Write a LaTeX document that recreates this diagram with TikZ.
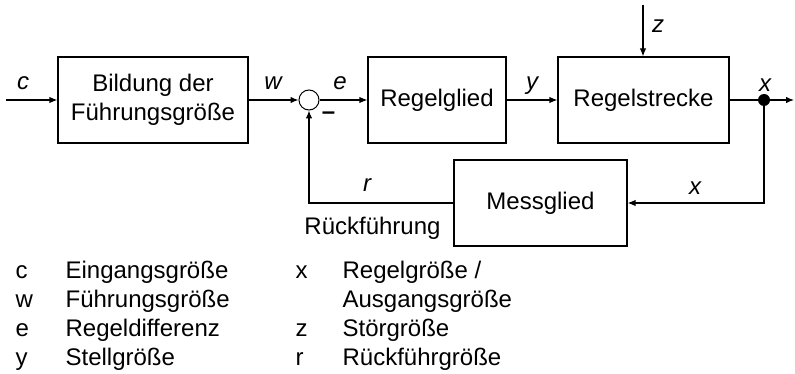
\documentclass[tikz,border=0pt]{standalone}
\usepackage{fontspec}
\setmainfont{Liberation Sans}
\usetikzlibrary{arrows.meta}
\begin{document}
\begin{tikzpicture}[x=1pt,y=-1pt,
  line width=1.2pt,
  every node/.style={font=\fontsize{24}{29}\selectfont},
  block/.style={draw,rectangle,inner sep=0pt,align=center,minimum height=86pt},
  sig/.style={-{Latex[length=8pt,width=6.5pt]}},
  lbl/.style={anchor=base,font=\fontsize{24}{29}\selectfont\itshape,inner sep=0pt},
  legsym/.style={anchor=base west,inner sep=0pt},
  legtxt/.style={anchor=base west,inner sep=0pt}]
\useasboundingbox (0,0) rectangle (795,374);

% blocks of the control loop
\node[block,minimum width=190pt] (fuehr) at (153,100) {Bildung der\\Führungsgröße};
\node[draw,circle,minimum size=20pt,inner sep=0pt,line width=1pt] (sum) at (309,100) {};
\node[block,minimum width=138pt] (glied) at (437,100) {Regelglied};
\node[block,minimum width=171pt] (strecke) at (643.5,100) {Regelstrecke};
\node[block,minimum width=173pt] (mess) at (540.5,203) {Messglied};
\node[circle,fill,minimum size=12pt,inner sep=0pt] (dot) at (764,100) {};

\coordinate (cin) at (6,100);
\coordinate (zin) at (643,5);
\coordinate (xout) at (794,100);

% signal paths
\draw[sig] (cin) -- (fuehr.west);
\draw[sig] (fuehr.east) -- (sum.west);
\draw[sig] (sum.east) -- (glied.west);
\draw[sig] (glied.east) -- (strecke.west);
\draw[sig] (zin) -- (strecke.north -| zin);
\draw (strecke.east) -- (dot.center);
\draw[sig] (dot.center) -- (xout);
\draw[sig] (dot.center) |- (mess.east);
\draw[sig] (mess.west) -| (sum.south);

% signal labels
\node[lbl] (lc) at (23,90) {c};
\node[lbl] (lw) at (273,90) {w};
\node[lbl] (le) at (340,90) {e};
\node[lbl] (ly) at (532,90) {y};
\node[lbl] (lz) at (658,33) {z};
\node[lbl] (lx) at (765,92) {x};
\node[lbl] (lx2) at (695,195) {x};
\node[lbl] (lr) at (367,192) {r};
\node[anchor=base,inner sep=0pt,font=\fontsize{24}{29}\selectfont\bfseries] (minus) at (328.5,119.5) {–};
\node[anchor=base,inner sep=0pt] (rueck) at (372.5,234) {Rückführung};

% legend
\node[legsym] (s1) at (15,278) {c};
\node[legtxt] (t1) at (65,278) {Eingangsgröße};
\node[legsym] (s2) at (15,307) {w};
\node[legtxt] (t2) at (65,307) {Führungsgröße};
\node[legsym] (s3) at (15,336) {e};
\node[legtxt] (t3) at (65,336) {Regeldifferenz};
\node[legsym] (s4) at (15,365) {y};
\node[legtxt] (t4) at (65,365) {Stellgröße};
\node[legsym] (s5) at (295,278) {x};
\node[legtxt] (t5) at (342,278) {Regelgröße /};
\node[legtxt] (t6) at (342,307) {Ausgangsgröße};
\node[legsym] (s7) at (295,336) {z};
\node[legtxt] (t7) at (342,336) {Störgröße};
\node[legsym] (s8) at (295,365) {r};
\node[legtxt] (t8) at (342,365) {Rückführgröße};
\end{tikzpicture}
\end{document}
